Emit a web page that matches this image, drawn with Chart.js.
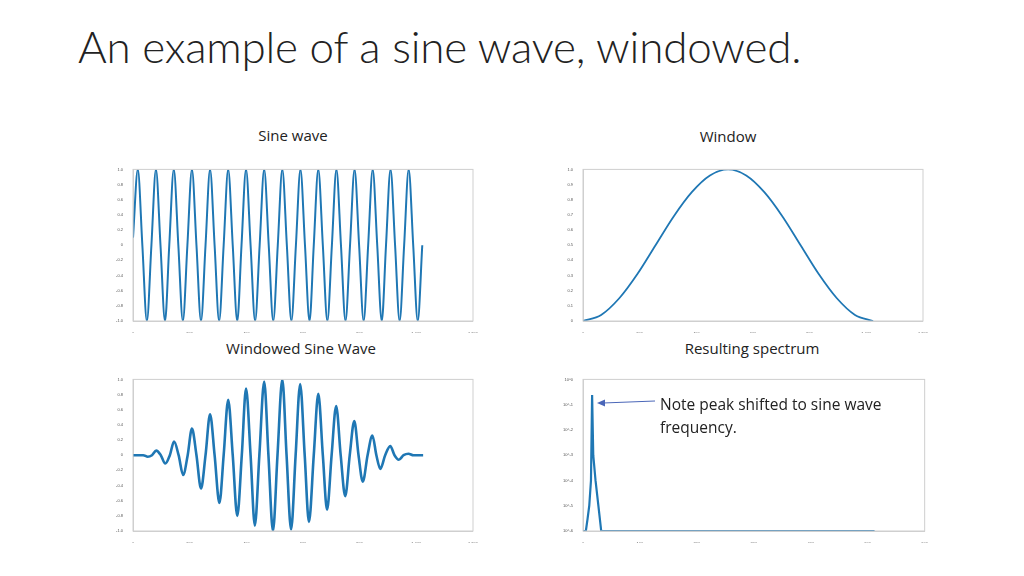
<!DOCTYPE html>
<html>
<head>
<meta charset="utf-8">
<script src="https://cdn.jsdelivr.net/npm/chart.js@4"></script>
<style>
  body { margin: 0; width: 1024px; height: 576px; background: #fff; position: relative; overflow: hidden; font-family: "Open Sans", Lato, sans-serif; }
  h1 { position: absolute; left: 78px; top: 20px; margin: 0; font-weight: 300; font-size: 44px; color: #222; font-family: Lato, "Open Sans", sans-serif; letter-spacing: -0.2px; }
  .cap { position: absolute; font-size: 15px; color: #222; text-align: center; width: 300px; }
  .box { position: absolute; width: 367px; height: 168px; }
  .note { position: absolute; left: 660px; top: 393px; font-size: 15.5px; line-height: 23px; color: #222; }
  svg { position: absolute; left: 0; top: 0; }
</style>
</head>
<body>
<h1>An example of a sine wave, windowed.</h1>
<div class="cap" style="left:143px;top:125px">Sine wave</div>
<div class="cap" style="left:578px;top:126px">Window</div>
<div class="cap" style="left:151px;top:338px">Windowed Sine Wave</div>
<div class="cap" style="left:602px;top:338px">Resulting spectrum</div>
<div class="box" style="left:113px;top:165px"><canvas id="c1"></canvas></div>
<div class="box" style="left:563px;top:165px"><canvas id="c2"></canvas></div>
<div class="box" style="left:113px;top:375px"><canvas id="c3"></canvas></div>
<div class="box" style="left:563px;top:375px"><canvas id="c4"></canvas></div>
<div class="note">Note peak shifted to sine wave<br>frequency.</div>
<svg width="1024" height="576">
  <line x1="655" y1="401" x2="603" y2="403" stroke="#4a66b8" stroke-width="1"/>
  <polygon points="597,403 605,399.5 605,406.5" fill="#4a66b8"/>
</svg>
<script>
// sine wave: extrema and zero crossings
const sineX = [0, 17, 33, 49, 65, 81, 97, 113, 128, 144, 160, 176, 192, 208, 224, 240, 256, 272, 288, 304, 320, 336, 352, 368, 383, 399, 415, 431, 447, 463, 479, 495, 511, 527, 543, 559, 575, 591, 607, 623, 638, 654, 670, 686, 702, 718, 734, 750, 766, 782, 798, 814, 830, 846, 862, 878, 893, 909, 925, 941, 957, 973, 989, 1005, 1021];
const sineY = [0.1, 1, 0, -1, 0, 1, 0, -1, 0, 1, 0, -1, 0, 1, 0, -1, 0, 1, 0, -1, 0, 1, 0, -1, 0, 1, 0, -1, 0, 1, 0, -1, 0, 1, 0, -1, 0, 1, 0, -1, 0, 1, 0, -1, 0, 1, 0, -1, 0, 1, 0, -1, 0, 1, 0, -1, 0, 1, 0, -1, 0, 1, 0, -1, 0];

const winX = [0, 64, 128, 192, 256, 320, 384, 448, 512, 576, 640, 704, 768, 832, 896, 960, 1024];
const winY = [0, 0.04, 0.15, 0.31, 0.5, 0.69, 0.85, 0.96, 1, 0.96, 0.85, 0.69, 0.5, 0.31, 0.15, 0.04, 0];

const wsX = [0, 36, 52, 67, 82, 98, 114, 130, 145, 161, 177, 193, 208, 224, 240, 256, 272, 288, 305, 320, 336, 352, 368, 384, 399, 415, 430, 446, 463, 478, 494, 510, 527, 542, 558, 574, 590, 606, 621, 638, 654, 670, 685, 701, 717, 733, 749, 765, 781, 796, 811, 828, 845, 859, 873, 890, 908, 923, 938, 955, 972, 990, 1024];
const wsY = [0, 0, -0.02, 0, 0.06, 0, -0.11, 0, 0.18, 0, -0.26, 0, 0.35, 0, -0.44, 0, 0.54, 0, -0.63, 0, 0.73, 0, -0.8, 0, 0.88, 0, -0.93, 0, 0.97, 0, -1.0, 0, 1.0, 0, -0.98, 0, 0.94, 0, -0.88, 0, 0.81, 0, -0.72, 0, 0.65, 0, -0.54, 0, 0.45, 0, -0.35, 0, 0.26, 0, -0.18, 0, 0.12, 0, -0.06, 0, 0.02, 0, 0];

const specX = [0, 5, 8, 11, 14, 16, 18, 22, 27, 32, 512];
const specY = [1e-6, 1e-6, 3e-6, 1e-5, 1e-4, 0.24, 1e-3, 1e-4, 1e-5, 1e-6, 1e-6];

const blue = "#1f77b4";
const frame = {
  id: "frame",
  afterDraw(chart) {
    const a = chart.chartArea, ctx = chart.ctx;
    ctx.save();
    ctx.strokeStyle = "#cfcfcf";
    ctx.lineWidth = 1;
    ctx.strokeRect(a.left, a.top, a.right - a.left, a.bottom - a.top);
    ctx.restore();
  }
};

function pts(xs, ys) { return xs.map((x, i) => ({ x, y: ys[i] })); }

function makeChart(id, xs, ys, xMax, xStep, y, width, smooth) {
  new Chart(document.getElementById(id), {
    type: "line",
    data: { datasets: [{ data: pts(xs, ys), borderColor: blue, borderWidth: width, pointRadius: 0, cubicInterpolationMode: smooth ? "monotone" : "default", tension: 0 }] },
    options: {
      animation: false, responsive: true, maintainAspectRatio: false,
      layout: { padding: { top: 2, right: 3 } },
      plugins: { legend: { display: false }, tooltip: { enabled: false } },
      scales: {
        x: { type: "linear", min: 0, max: xMax, grid: { display: false }, border: { color: "#cfcfcf" },
             ticks: { stepSize: xStep, font: { size: 4 }, color: "#555", padding: 2 },
             afterFit(s) { s.height = 12; } },
        y: Object.assign({ grid: { display: false }, border: { color: "#cfcfcf" },
             afterFit(s) { s.width = 20; } }, y)
      }
    },
    plugins: [frame]
  });
}

const yTicks = { font: { size: 4 }, color: "#555", padding: 2 };
makeChart("c1", sineX, sineY, 1200, 200, { min: -1, max: 1, ticks: Object.assign({ stepSize: 0.2 }, yTicks) }, 2, true);
makeChart("c2", winX, winY, 1200, 200, { min: 0, max: 1, ticks: Object.assign({ stepSize: 0.1 }, yTicks) }, 1.8, true);
makeChart("c3", wsX, wsY, 1200, 200, { min: -1, max: 1, ticks: Object.assign({ stepSize: 0.2 }, yTicks) }, 2.6, true);
makeChart("c4", specX, specY, 600, 100, { type: "logarithmic", min: 1e-6, max: 1,
  ticks: Object.assign({ callback: v => { const e = Math.log10(v); return Math.abs(e - Math.round(e)) < 1e-6 ? "10^" + Math.round(e) : ""; } }, yTicks) }, 2.2, false);
</script>
</body>
</html>
